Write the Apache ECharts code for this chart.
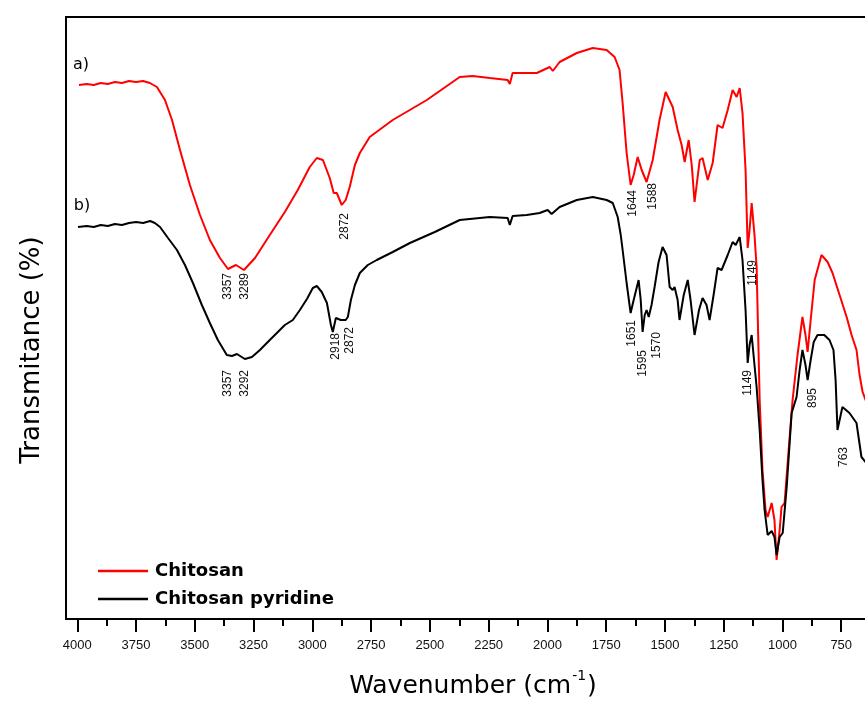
<!DOCTYPE html>
<html>
<head>
<meta charset="utf-8">
<script src="https://cdn.jsdelivr.net/npm/echarts@6/dist/echarts.min.js"></script>
<style>html,body{margin:0;padding:0;background:#fff}#c{width:865px;height:704px}</style>
</head>
<body>
<div id="c"></div>
<script>
// Tick labels (wavenumber, cm-1)
var majorTicks = [500, 750, 1000, 1250, 1500, 1750, 2000, 2250, 2500, 2750, 3000, 3250, 3500, 3750, 4000];
var minorTicks = [625, 875, 1125, 1375, 1625, 1875, 2125, 2375, 2625, 2875, 3125, 3375, 3625, 3875];

// a) Chitosan
var chitosanWn = [3993,3960,3930,3900,3870,3840,3810,3780,3750,3720,3691,3661,3627,3597,3563,3521,3478,3436,3393,3359,3325,3291,3244,3181,3117,3062,3011,2981,2955,2926,2909,2896,2875,2858,2841,2819,2798,2756,2658,2513,2373,2318,2245,2169,2160,2148,2045,1990,1977,1948,1875,1807,1748,1714,1693,1680,1663,1646,1633,1616,1599,1578,1552,1523,1497,1467,1446,1429,1416,1399,1386,1374,1352,1340,1318,1297,1276,1255,1233,1212,1195,1182,1170,1157,1148,1140,1131,1119,1110,1097,1085,1072,1063,1046,1034,1025,1012,1004,991,978,957,936,915,902,893,880,863,834,808,787,757,727,706,685,672,659,640];
var chitosanT = [534,535,534,536,535,537,536,538,537,538,536,532,519,499,469,434,404,379,361,350,354,349,361,384,407,429,452,461,459,441,426,426,414,419,432,454,466,482,499,519,542,543,541,539,535,546,546,552,548,557,566,571,569,562,549,516,466,434,444,462,449,437,459,499,527,512,489,474,457,479,454,417,459,461,439,456,494,491,509,529,522,531,506,449,371,389,416,384,352,219,149,109,102,116,99,59,89,112,116,156,219,264,302,284,267,299,339,364,357,346,324,302,284,269,244,227,215];

// b) Chitosan pyridine
var pyridineWn = [3997,3960,3930,3900,3870,3840,3810,3780,3750,3720,3690,3670,3648,3614,3576,3542,3508,3470,3436,3402,3364,3342,3321,3287,3257,3223,3181,3151,3117,3083,3053,3023,2998,2981,2960,2938,2921,2913,2900,2879,2858,2849,2836,2819,2798,2764,2726,2658,2585,2479,2373,2245,2169,2160,2148,2088,2033,1999,1982,1948,1875,1807,1748,1722,1701,1688,1680,1663,1646,1633,1612,1603,1595,1586,1578,1569,1557,1544,1527,1510,1493,1480,1467,1459,1446,1438,1420,1403,1391,1374,1355,1340,1323,1310,1293,1276,1259,1233,1212,1199,1182,1170,1157,1148,1140,1131,1119,1110,1097,1085,1076,1063,1046,1034,1025,1012,999,982,961,940,927,915,902,893,880,867,851,822,800,783,774,766,745,715,685,664,640];
var pyridineT = [392,393,392,394,393,395,394,396,397,396,398,396,392,381,369,354,336,314,296,279,264,263,265,260,262,269,279,286,294,299,309,320,331,333,327,316,294,287,301,299,299,302,319,334,346,354,359,367,376,387,399,402,401,394,403,404,406,409,405,412,419,422,419,416,402,384,369,336,306,319,339,319,287,304,309,302,314,332,357,372,364,332,329,332,319,299,324,339,319,284,309,321,314,299,324,351,349,364,377,374,382,359,309,256,274,284,254,232,189,139,109,84,88,82,64,82,86,132,206,222,249,269,254,239,259,277,284,284,279,269,239,189,212,206,196,162,155];

// Peak annotations: anchor wavenumber, anchor transmittance (top of label), text
var chitosanLabelWn = [3359, 3287, 2862, 1637, 1552, 1127];
var chitosanLabelT  = [346, 346, 406, 429, 436, 359];
var chitosanLabelTx = ['3357', '3289', '2872', '1644', '1588', '1149'];
var pyridineLabelWn = [3359, 3287, 2900, 2841, 1641, 1595, 1536, 1149, 871, 741];
var pyridineLabelT  = [249, 249, 286, 292, 299, 269, 287, 249, 231, 172];
var pyridineLabelTx = ['3357', '3292', '2918', '2872', '1651', '1595', '1570', '1149', '895', '763'];

function pairs(a, b) { return a.map(function (v, i) { return [v, b[i]]; }); }
function marks(wn, t, tx) {
  return wn.map(function (w, i) {
    return { coord: [w, t[i]], value: tx[i] };
  });
}

var chart = echarts.init(document.getElementById('c'), null, { renderer: 'canvas' });
var annoLabel = {
  show: true, position: 'inside', rotate: 90, align: 'right', verticalAlign: 'middle',
  formatter: '{c}', color: '#111', fontSize: 12, fontFamily: 'Liberation Sans, Arial, sans-serif'
};
chart.setOption({
  animation: false,
  backgroundColor: '#fff',
  grid: { left: 66, top: 17, bottom: 85, right: -35, outerBoundsMode: 'none', containLabel: false, show: true, borderColor: '#000', borderWidth: 2 },
  legend: {
    left: 98, top: 562, padding: 0, orient: 'vertical', icon: 'rect', itemWidth: 50, itemHeight: 2.5, itemGap: 10,
    textStyle: { fontSize: 18, fontWeight: 'bold', fontFamily: 'DejaVu Sans', color: '#000', padding: [0, 0, 0, 2] },
    data: ['Chitosan', 'Chitosan pyridine']
  },
  xAxis: [{
    type: 'value', inverse: true, min: 500, max: 4048,
    axisLine: { show: true, lineStyle: { color: '#000', width: 2 } },
    axisTick: { show: true, inside: false, length: 13, customValues: majorTicks, lineStyle: { color: '#000', width: 2 } },
    axisLabel: { show: true, customValues: majorTicks, margin: 20, color: '#111', fontSize: 13, fontFamily: 'Liberation Sans, Arial, sans-serif',
      formatter: function (v) { return String(v); } },
    splitLine: { show: false },
    name: '{t|Wavenumber (cm}{s|-1}{t|)}', nameLocation: 'middle', nameGap: 50,
    nameTextStyle: {
      padding: [0, 20, 0, 0],
      rich: {
        t: { fontSize: 25, fontFamily: 'DejaVu Sans', color: '#000', verticalAlign: 'bottom', lineHeight: 30 },
        s: { fontSize: 14, fontFamily: 'DejaVu Sans', color: '#000', verticalAlign: 'top', lineHeight: 14, padding: [0, 1, 0, 1] }
      }
    }
  }, {
    type: 'value', inverse: true, min: 500, max: 4048, position: 'bottom', gridIndex: 0,
    axisLine: { show: false },
    axisTick: { show: true, inside: false, length: 7, customValues: minorTicks, lineStyle: { color: '#000', width: 2 } },
    axisLabel: { show: false }, splitLine: { show: false }
  }],
  yAxis: {
    type: 'value', min: 0, max: 602,
    axisLine: { show: false }, axisTick: { show: false }, axisLabel: { show: false }, splitLine: { show: false },
    name: 'Transmitance (%)', nameLocation: 'middle', nameGap: 21,
    nameTextStyle: { fontSize: 26, fontFamily: 'DejaVu Sans', color: '#000', padding: [0, 64, 0, 0] }
  },
  series: [{
    name: 'Chitosan', type: 'line', data: pairs(chitosanWn, chitosanT), symbol: 'none', color: '#ff0000',
    lineStyle: { width: 2, color: '#ff0000' },
    markPoint: { symbol: 'circle', symbolSize: 0, label: annoLabel, data: marks(chitosanLabelWn, chitosanLabelT, chitosanLabelTx) }
  }, {
    name: 'Chitosan pyridine', type: 'line', data: pairs(pyridineWn, pyridineT), symbol: 'none', color: '#000',
    lineStyle: { width: 2, color: '#000' },
    markPoint: { symbol: 'circle', symbolSize: 0, label: annoLabel, data: marks(pyridineLabelWn, pyridineLabelT, pyridineLabelTx) }
  }],
  graphic: [
    { type: 'text', x: 81, y: 65, style: { text: 'a)', align: 'center', verticalAlign: 'middle', fill: '#000', font: '16px "DejaVu Sans"' } },
    { type: 'text', x: 82, y: 206, style: { text: 'b)', align: 'center', verticalAlign: 'middle', fill: '#000', font: '16px "DejaVu Sans"' } }
  ]
});
</script>
</body>
</html>
